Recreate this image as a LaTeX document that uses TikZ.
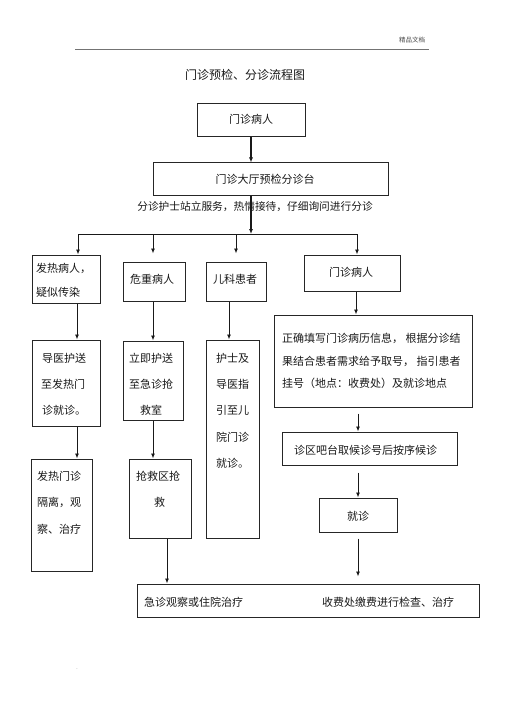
\documentclass[tikz,border=0pt]{standalone}
\usepackage{fontspec}
\setmainfont{Noto Sans CJK SC}
\usetikzlibrary{arrows.meta}
\begin{document}
\begin{tikzpicture}[x=1pt,y=-1pt,
  box/.style={draw=black!85, line width=1pt, inner sep=0pt},
  txt/.style={inner sep=0pt, anchor=west, font=\fontsize{11}{13}\selectfont, text=black!90},
  ctxt/.style={inner sep=0pt, font=\fontsize{11}{13}\selectfont, text=black!90},
  conn/.style={draw=black!90, line width=0.9pt},
  arr/.style={conn, -{Latex[length=5pt,width=4pt]}},
]
\fill[white] (0,0) rectangle (505,714);
\useasboundingbox (0,0) rectangle (505,714);

% header
\node[inner sep=0pt, font=\fontsize{6.5}{7}\selectfont, text=black!70] (hdr) at (412,40) {精品文档};
\coordinate (h1) at (75,49);
\coordinate (h2) at (429,49);
\draw[black!55, line width=0.6pt] (h1) -- (h2);
\node[inner sep=0pt, font=\fontsize{12}{14}\selectfont, text=black!90] (title) at (245,75) {门诊预检、分诊流程图};

% boxes
\node[box, minimum width=108pt, minimum height=33pt] (A) at (251,120.5) {};
\node[box, minimum width=235pt, minimum height=32pt] (B) at (270.5,179) {};
\node[box, minimum width=68pt, minimum height=48pt] (C1) at (66,279) {};
\node[box, minimum width=68pt, minimum height=86pt] (C2) at (66,383) {};
\node[box, minimum width=61pt, minimum height=112pt] (C3) at (61.5,515) {};
\node[box, minimum width=62pt, minimum height=39pt] (D1) at (154,281.5) {};
\node[box, minimum width=60pt, minimum height=79pt] (D2) at (153,380.5) {};
\node[box, minimum width=62pt, minimum height=79pt] (D3) at (160,498.5) {};
\node[box, minimum width=60pt, minimum height=39pt] (E1) at (236,281.5) {};
\node[box, minimum width=53pt, minimum height=198pt] (E2) at (232.5,439) {};
\node[box, minimum width=96pt, minimum height=36pt] (F1) at (352,273) {};
\node[box, minimum width=198pt, minimum height=92pt] (F2) at (373,361) {};
\node[box, minimum width=175pt, minimum height=33pt] (F3) at (369.5,448.5) {};
\node[box, minimum width=78pt, minimum height=34pt] (F4) at (358,515) {};
\node[box, minimum width=342pt, minimum height=33pt] (G) at (308,600.5) {};

% texts
\node[ctxt] (tA) at (251,119) {门诊病人};
\node[ctxt] (tB) at (265,179) {门诊大厅预检分诊台};
\node[inner sep=0pt, font=\fontsize{10.7}{12}\selectfont, text=black!90] (tN) at (255,207) {分诊护士站立服务，热情接待，仔细询问进行分诊};

\node[txt] (c1a) at (36,268) {发热病人，};
\node[txt] (c1b) at (36,292) {疑似传染};
\node[txt] (c2a) at (42,358) {导医护送};
\node[txt] (c2b) at (41,384) {至发热门};
\node[txt] (c2c) at (42,410) {诊就诊。};
\node[txt] (c3a) at (37,476) {发热门诊};
\node[txt] (c3b) at (37,502) {隔离，观};
\node[txt] (c3c) at (37,529) {察、治疗};

\node[txt] (d1a) at (130,279) {危重病人};
\node[txt] (d2a) at (129,358) {立即护送};
\node[txt] (d2b) at (129,384) {至急诊抢};
\node[txt] (d2c) at (140,410) {救室};
\node[txt] (d3a) at (136,476) {抢救区抢};
\node[txt] (d3b) at (154,502) {救};

\node[txt] (e1a) at (213,279) {儿科患者};
\node[txt] (e2a) at (216,358) {护士及};
\node[txt] (e2b) at (216,384) {导医指};
\node[txt] (e2c) at (216,410) {引至儿};
\node[txt] (e2d) at (216,437) {院门诊};
\node[txt] (e2e) at (216,463) {就诊。};

\node[ctxt] (f1a) at (351,272) {门诊病人};
\node[txt] (f2a) at (282,338) {正确填写门诊病历信息， 根据分诊结};
\node[txt] (f2b) at (282,361) {果结合患者需求给予取号， 指引患者};
\node[txt] (f2c) at (282,383) {挂号（地点：收费处）及就诊地点};
\node[txt] (f3a) at (294,450) {诊区吧台取候诊号后按序候诊};
\node[ctxt] (f4a) at (358,516) {就诊};
\node[txt] (g1) at (144,602) {急诊观察或住院治疗};
\node[txt] (g2) at (322,602) {收费处缴费进行检查、治疗};

\node[inner sep=0pt, font=\fontsize{5}{6}\selectfont, text=black!60] (dot) at (77,669) {.};

% connectors
\coordinate (J) at (251,234);
\coordinate (L) at (78,234);
\coordinate (R) at (357,234);
\coordinate (jD) at (153,234);
\coordinate (jE) at (236,234);
\draw[arr, line width=1.4pt] (A.south) -- (A.south |- B.north);
\draw[arr, line width=1.4pt] (A.south |- B.south) -- (J);
\draw[conn] (L) -- (R);
\draw[arr] (L) -- (L |- C1.north);
\draw[arr, shorten >=8pt] (jD) -- (jD |- D1.north);
\draw[arr, shorten >=8pt] (jE) -- (jE |- E1.north);
\draw[arr] (R) -- (R |- F1.north);

\coordinate (xc) at (77,0);
\draw[arr] (xc |- C1.south) -- (xc |- C2.north);
\draw[arr] (xc |- C2.south) -- (xc |- C3.north);
\draw[arr] (D1.south -| jD) -- (D2.north -| jD);
\draw[arr] (D2.south -| jD) -- (D3.north -| jD);
\coordinate (xd) at (167,0);
\draw[arr] (xd |- D3.south) -- (xd |- G.north);
\coordinate (xe) at (229,0);
\draw[arr] (xe |- E1.south) -- (xe |- E2.north);
\coordinate (xf) at (356,0);
\draw[arr] (xf |- F1.south) -- (xf |- F2.north);
\coordinate (xg) at (358,0);
\draw[arr, shorten <=6pt] (xg |- F2.south) -- (xg |- F3.north);
\draw[arr, shorten <=7pt] (xg |- F3.south) -- (xg |- F4.north);
\draw[arr, shorten <=6pt, shorten >=7pt] (xg |- F4.south) -- (xg |- G.north);
\end{tikzpicture}
\end{document}
